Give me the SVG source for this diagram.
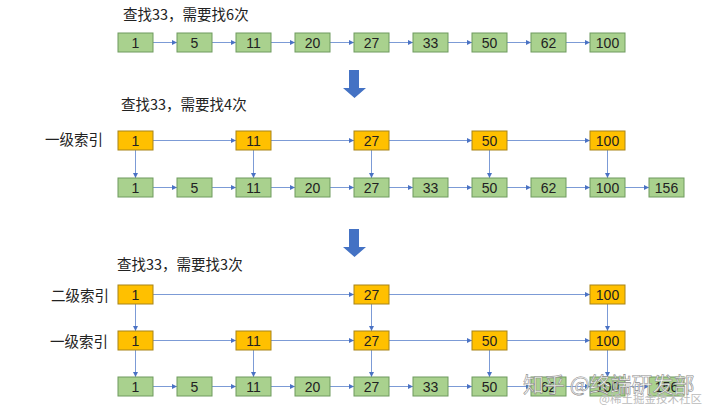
<svg xmlns="http://www.w3.org/2000/svg" width="720" height="415" viewBox="0 0 720 415">
<defs>
<style>
.g rect{fill:#A9D18E;stroke:#6E9A5E;stroke-width:1}
.o rect{fill:#FFC000;stroke:#A88419;stroke-width:1}
.n text{font-family:"Liberation Sans","Noto Sans CJK SC",sans-serif;font-size:14px;fill:#222;text-anchor:middle}
.t{font-family:"Noto Sans CJK SC","Liberation Sans",sans-serif;font-size:14.5px;fill:#222}
.c line{stroke:#7C9BD6;stroke-width:1;marker-end:url(#ah)}
.big{fill:#4472C4}
</style>
<marker id="ah" viewBox="0 0 8 8" refX="8" refY="4" markerWidth="5" markerHeight="5" markerUnits="userSpaceOnUse" orient="auto">
<path d="M0,0 L8,4 L0,8 z" fill="#4A72C4"/>
</marker>
</defs>
<rect width="720" height="415" fill="#fff"/>

<!-- Titles and labels -->
<text class="t" x="123" y="20">查找33，需要找6次</text>
<text class="t" x="121" y="110">查找33，需要找4次</text>
<text class="t" x="117" y="270">查找33，需要找3次</text>
<text class="t" x="45" y="145">一级索引</text>
<text class="t" x="51" y="301">二级索引</text>
<text class="t" x="50" y="347">一级索引</text>

<!-- Big arrows -->
<polygon class="big" points="349,70 359,70 359,88 366,88 354.5,98 343,88 349,88"/>
<polygon class="big" points="349,229 359,229 359,247 366,247 354.5,257 343,247 349,247"/>

<!-- Connectors -->
<g id="connectors" class="c">
<line x1="153" y1="42.5" x2="177" y2="42.5"/>
<line x1="212" y1="42.5" x2="236" y2="42.5"/>
<line x1="271" y1="42.5" x2="295" y2="42.5"/>
<line x1="330" y1="42.5" x2="354" y2="42.5"/>
<line x1="389" y1="42.5" x2="413" y2="42.5"/>
<line x1="448" y1="42.5" x2="472" y2="42.5"/>
<line x1="507" y1="42.5" x2="531" y2="42.5"/>
<line x1="566" y1="42.5" x2="590" y2="42.5"/>
<line x1="153" y1="140.5" x2="236" y2="140.5"/>
<line x1="271" y1="140.5" x2="354" y2="140.5"/>
<line x1="389" y1="140.5" x2="472" y2="140.5"/>
<line x1="507" y1="140.5" x2="590" y2="140.5"/>
<line x1="153" y1="187.5" x2="177" y2="187.5"/>
<line x1="212" y1="187.5" x2="236" y2="187.5"/>
<line x1="271" y1="187.5" x2="295" y2="187.5"/>
<line x1="330" y1="187.5" x2="354" y2="187.5"/>
<line x1="389" y1="187.5" x2="413" y2="187.5"/>
<line x1="448" y1="187.5" x2="472" y2="187.5"/>
<line x1="507" y1="187.5" x2="531" y2="187.5"/>
<line x1="566" y1="187.5" x2="590" y2="187.5"/>
<line x1="625" y1="187.5" x2="649" y2="187.5"/>
<line x1="135.5" y1="150" x2="135.5" y2="178"/>
<line x1="253.5" y1="150" x2="253.5" y2="178"/>
<line x1="371.5" y1="150" x2="371.5" y2="178"/>
<line x1="489.5" y1="150" x2="489.5" y2="178"/>
<line x1="607.5" y1="150" x2="607.5" y2="178"/>
<line x1="153" y1="294.5" x2="354" y2="294.5"/>
<line x1="389" y1="294.5" x2="590" y2="294.5"/>
<line x1="153" y1="340.5" x2="236" y2="340.5"/>
<line x1="271" y1="340.5" x2="354" y2="340.5"/>
<line x1="389" y1="340.5" x2="472" y2="340.5"/>
<line x1="507" y1="340.5" x2="590" y2="340.5"/>
<line x1="153" y1="386.5" x2="177" y2="386.5"/>
<line x1="212" y1="386.5" x2="236" y2="386.5"/>
<line x1="271" y1="386.5" x2="295" y2="386.5"/>
<line x1="330" y1="386.5" x2="354" y2="386.5"/>
<line x1="389" y1="386.5" x2="413" y2="386.5"/>
<line x1="448" y1="386.5" x2="472" y2="386.5"/>
<line x1="507" y1="386.5" x2="531" y2="386.5"/>
<line x1="566" y1="386.5" x2="590" y2="386.5"/>
<line x1="625" y1="386.5" x2="649" y2="386.5"/>
<line x1="135.5" y1="304" x2="135.5" y2="331"/>
<line x1="371.5" y1="304" x2="371.5" y2="331"/>
<line x1="607.5" y1="304" x2="607.5" y2="331"/>
<line x1="135.5" y1="350" x2="135.5" y2="377"/>
<line x1="253.5" y1="350" x2="253.5" y2="377"/>
<line x1="371.5" y1="350" x2="371.5" y2="377"/>
<line x1="489.5" y1="350" x2="489.5" y2="377"/>
<line x1="607.5" y1="350" x2="607.5" y2="377"/>
</g>

<!-- Section 1 nodes -->
<g id="s1-1" class="n g"><rect x="118" y="33" width="35" height="19"/><text x="135.5" y="47.5">1</text></g>
<g id="s1-5" class="n g"><rect x="177" y="33" width="35" height="19"/><text x="194.5" y="47.5">5</text></g>
<g id="s1-11" class="n g"><rect x="236" y="33" width="35" height="19"/><text x="253.5" y="47.5">11</text></g>
<g id="s1-20" class="n g"><rect x="295" y="33" width="35" height="19"/><text x="312.5" y="47.5">20</text></g>
<g id="s1-27" class="n g"><rect x="354" y="33" width="35" height="19"/><text x="371.5" y="47.5">27</text></g>
<g id="s1-33" class="n g"><rect x="413" y="33" width="35" height="19"/><text x="430.5" y="47.5">33</text></g>
<g id="s1-50" class="n g"><rect x="472" y="33" width="35" height="19"/><text x="489.5" y="47.5">50</text></g>
<g id="s1-62" class="n g"><rect x="531" y="33" width="35" height="19"/><text x="548.5" y="47.5">62</text></g>
<g id="s1-100" class="n g"><rect x="590" y="33" width="35" height="19"/><text x="607.5" y="47.5">100</text></g>

<!-- Section 2 index nodes -->
<g id="s2-i1" class="n o"><rect x="118" y="131" width="35" height="19"/><text x="135.5" y="145.5">1</text></g>
<g id="s2-i11" class="n o"><rect x="236" y="131" width="35" height="19"/><text x="253.5" y="145.5">11</text></g>
<g id="s2-i27" class="n o"><rect x="354" y="131" width="35" height="19"/><text x="371.5" y="145.5">27</text></g>
<g id="s2-i50" class="n o"><rect x="472" y="131" width="35" height="19"/><text x="489.5" y="145.5">50</text></g>
<g id="s2-i100" class="n o"><rect x="590" y="131" width="35" height="19"/><text x="607.5" y="145.5">100</text></g>

<!-- Section 2 data nodes -->
<g id="s2-1" class="n g"><rect x="118" y="178" width="35" height="19"/><text x="135.5" y="192.5">1</text></g>
<g id="s2-5" class="n g"><rect x="177" y="178" width="35" height="19"/><text x="194.5" y="192.5">5</text></g>
<g id="s2-11" class="n g"><rect x="236" y="178" width="35" height="19"/><text x="253.5" y="192.5">11</text></g>
<g id="s2-20" class="n g"><rect x="295" y="178" width="35" height="19"/><text x="312.5" y="192.5">20</text></g>
<g id="s2-27" class="n g"><rect x="354" y="178" width="35" height="19"/><text x="371.5" y="192.5">27</text></g>
<g id="s2-33" class="n g"><rect x="413" y="178" width="35" height="19"/><text x="430.5" y="192.5">33</text></g>
<g id="s2-50" class="n g"><rect x="472" y="178" width="35" height="19"/><text x="489.5" y="192.5">50</text></g>
<g id="s2-62" class="n g"><rect x="531" y="178" width="35" height="19"/><text x="548.5" y="192.5">62</text></g>
<g id="s2-100" class="n g"><rect x="590" y="178" width="35" height="19"/><text x="607.5" y="192.5">100</text></g>
<g id="s2-156" class="n g"><rect x="649" y="178" width="35" height="19"/><text x="666.5" y="192.5">156</text></g>

<!-- Section 3 level-2 nodes -->
<g id="s3-j1" class="n o"><rect x="118" y="285" width="35" height="19"/><text x="135.5" y="299.5">1</text></g>
<g id="s3-j27" class="n o"><rect x="354" y="285" width="35" height="19"/><text x="371.5" y="299.5">27</text></g>
<g id="s3-j100" class="n o"><rect x="590" y="285" width="35" height="19"/><text x="607.5" y="299.5">100</text></g>

<!-- Section 3 level-1 nodes -->
<g id="s3-i1" class="n o"><rect x="118" y="331" width="35" height="19"/><text x="135.5" y="345.5">1</text></g>
<g id="s3-i11" class="n o"><rect x="236" y="331" width="35" height="19"/><text x="253.5" y="345.5">11</text></g>
<g id="s3-i27" class="n o"><rect x="354" y="331" width="35" height="19"/><text x="371.5" y="345.5">27</text></g>
<g id="s3-i50" class="n o"><rect x="472" y="331" width="35" height="19"/><text x="489.5" y="345.5">50</text></g>
<g id="s3-i100" class="n o"><rect x="590" y="331" width="35" height="19"/><text x="607.5" y="345.5">100</text></g>

<!-- Section 3 data nodes -->
<g id="s3-1" class="n g"><rect x="118" y="377" width="35" height="19"/><text x="135.5" y="391.5">1</text></g>
<g id="s3-5" class="n g"><rect x="177" y="377" width="35" height="19"/><text x="194.5" y="391.5">5</text></g>
<g id="s3-11" class="n g"><rect x="236" y="377" width="35" height="19"/><text x="253.5" y="391.5">11</text></g>
<g id="s3-20" class="n g"><rect x="295" y="377" width="35" height="19"/><text x="312.5" y="391.5">20</text></g>
<g id="s3-27" class="n g"><rect x="354" y="377" width="35" height="19"/><text x="371.5" y="391.5">27</text></g>
<g id="s3-33" class="n g"><rect x="413" y="377" width="35" height="19"/><text x="430.5" y="391.5">33</text></g>
<g id="s3-50" class="n g"><rect x="472" y="377" width="35" height="19"/><text x="489.5" y="391.5">50</text></g>
<g id="s3-62" class="n g"><rect x="531" y="377" width="35" height="19"/><text x="548.5" y="391.5">62</text></g>
<g id="s3-100" class="n g"><rect x="590" y="377" width="35" height="19"/><text x="607.5" y="391.5">100</text></g>
<g id="s3-156" class="n g"><rect x="649" y="377" width="35" height="19"/><text x="666.5" y="391.5">156</text></g>

<!-- Watermark (overlaps the last row, as in the reference) -->
<g id="watermark" font-family="Noto Sans CJK SC,Liberation Sans,sans-serif">
<text x="523" y="392" font-size="21" fill="#ffffff" fill-opacity="0.85" stroke="#8a8a8a" stroke-width="0.6">知乎 @终端研发部</text>
<text x="599" y="403" font-size="11.5" fill="#bbbbbb">@稀土掘金技术社区</text>
</g>
</svg>
